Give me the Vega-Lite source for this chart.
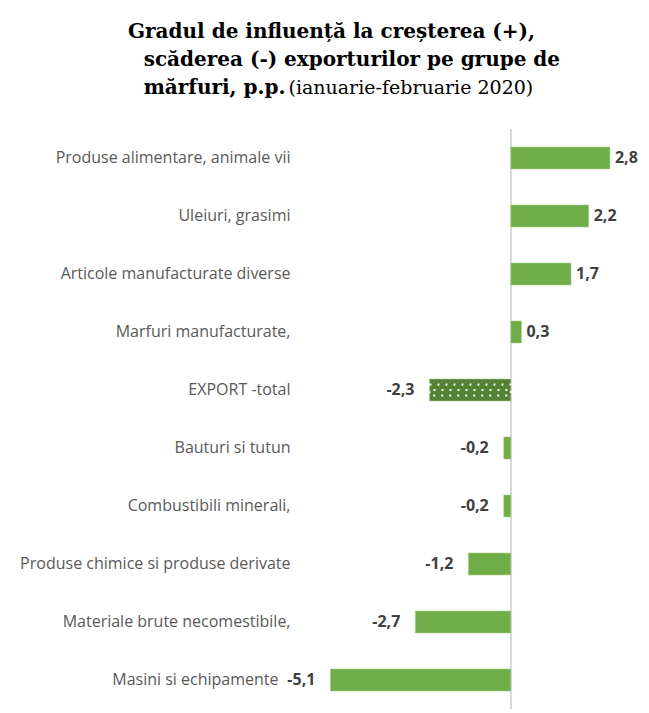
{
  "$schema": "https://vega.github.io/schema/vega-lite/v6.json",
  "width": 322,
  "height": 580,
  "autosize": {"type": "none"},
  "padding": {"left": 295, "top": 129, "right": 32, "bottom": 4},
  "background": "white",
  "title": {
    "text": ["Gradul de influență la creșterea (+),", "\u2800scăderea (-) exporturilor pe grupe de", "\u2800mărfuri, p.p."],
    "anchor": "start",
    "frame": "group",
    "align": "left",
    "dx": -167,
    "font": "DejaVu Serif",
    "fontSize": 20,
    "fontWeight": "bold",
    "color": "#000000",
    "lineHeight": 28,
    "offset": -20
  },
  "config": {
    "locale": {"number": {"decimal": ",", "thousands": ".", "grouping": [3], "currency": ["", ""], "minus": "-"}},
    "view": {"stroke": null}
  },
  "data": {
    "values": [
      {"cat": "Produse alimentare, animale vii", "value": 2.8},
      {"cat": "Uleiuri, grasimi", "value": 2.2},
      {"cat": "Articole manufacturate diverse", "value": 1.7},
      {"cat": "Marfuri manufacturate,", "value": 0.3},
      {"cat": "EXPORT -total", "value": -2.3},
      {"cat": "Bauturi si tutun", "value": -0.2},
      {"cat": "Combustibili minerali,", "value": -0.2},
      {"cat": "Produse chimice si produse derivate", "value": -1.2},
      {"cat": "Materiale brute necomestibile,", "value": -2.7},
      {"cat": "Masini si echipamente", "value": -5.1}
    ]
  },
  "layer": [
    {
      "mark": {"type": "rule", "color": "#D9D9D9", "strokeWidth": 1.5},
      "encoding": {"x": {"datum": 0, "type": "quantitative", "scale": {"domain": [-6.1, 3.0], "nice": false, "zero": false},
        "axis": {"orient": "top", "labels": false, "ticks": false, "domain": false, "grid": false,
          "title": "(ianuarie-februarie 2020)", "titleX": -7, "titleY": -36, "titleAlign": "left", "titleBaseline": "alphabetic",
          "titleFont": "DejaVu Serif", "titleFontSize": 19, "titleFontWeight": "normal", "titleColor": "#000000"}}}
    },
    {
      "mark": {"type": "bar", "stroke": "#A9D18E", "strokeWidth": 0.6},
      "encoding": {
        "y": {"field": "cat", "type": "nominal", "sort": null,
          "scale": {"paddingInner": 0.62, "paddingOuter": 0.31},
          "axis": {"title": null, "domain": false, "ticks": false, "labelPadding": 5, "labelFont": "Open Sans", "labelFontSize": 16, "labelColor": "#595959", "labelLimit": 320,
            "labelExpr": "datum.value == 'Masini si echipamente' ? datum.value + '\u2800' : datum.value"}},
        "x": {"field": "value", "type": "quantitative"},
        "color": {"condition": {"test": "datum.cat === 'EXPORT -total'", "value": "#548235"}, "value": "#70AD47"}
      }
    },
    {
      "transform": [{"filter": "datum.cat === 'EXPORT -total'"}],
      "mark": {"type": "bar", "size": 11, "fill": null, "fillOpacity": 0, "stroke": "#FFFFFF", "strokeWidth": 2, "strokeDash": [2, 6], "strokeDashOffset": 0},
      "encoding": {
        "y": {"field": "cat", "type": "nominal", "sort": null},
        "x": {"field": "value", "type": "quantitative"}
      }
    },
    {
      "transform": [{"filter": "datum.cat === 'EXPORT -total'"}],
      "mark": {"type": "rule", "color": "#FFFFFF", "strokeWidth": 2, "strokeDash": [2, 6], "strokeDashOffset": 4},
      "encoding": {
        "y": {"field": "cat", "type": "nominal", "sort": null},
        "x": {"field": "value", "type": "quantitative"},
        "x2": {"datum": 0}
      }
    },
    {
      "transform": [{"filter": "datum.value >= 0"}],
      "mark": {"type": "text", "align": "left", "dx": 5, "font": "Open Sans", "fontSize": 16, "fontWeight": "bold", "color": "#404040"},
      "encoding": {
        "y": {"field": "cat", "type": "nominal", "sort": null},
        "x": {"field": "value", "type": "quantitative"},
        "text": {"field": "value", "type": "quantitative", "format": ".1f"}
      }
    },
    {
      "transform": [{"filter": "datum.value < 0"}],
      "mark": {"type": "text", "align": "right", "dx": -15, "font": "Open Sans", "fontSize": 16, "fontWeight": "bold", "color": "#404040"},
      "encoding": {
        "y": {"field": "cat", "type": "nominal", "sort": null},
        "x": {"field": "value", "type": "quantitative"},
        "text": {"field": "value", "type": "quantitative", "format": ".1f"}
      }
    }
  ]
}
